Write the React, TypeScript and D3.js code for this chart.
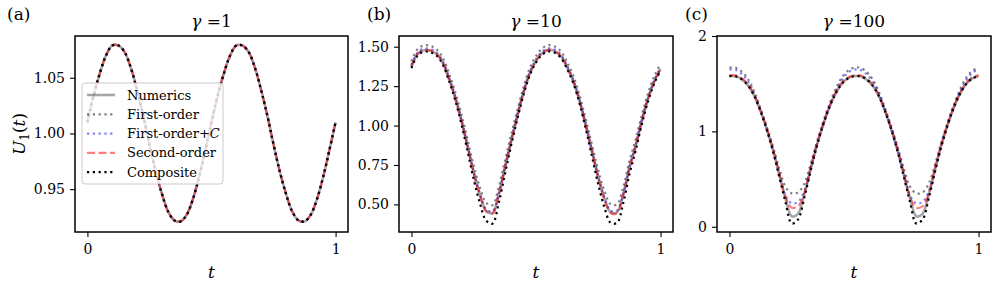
import React, { useEffect, useRef } from "react";
import * as d3 from "d3";

// sample times (shared by every curve)
const tGrid = [
  0, 0.025, 0.05, 0.075, 0.1, 0.125, 0.15, 0.175, 0.2, 0.225, 0.25, 0.275,
  0.3, 0.325, 0.35, 0.375, 0.4, 0.425, 0.45, 0.475, 0.5, 0.525, 0.55, 0.575,
  0.6, 0.625, 0.65, 0.675, 0.7, 0.725, 0.75, 0.775, 0.8, 0.825, 0.85, 0.875,
  0.9, 0.925, 0.95, 0.975, 1.0,
];

const xTicks = [0, 1];

// (a) gamma = 1 : all approximations sit on top of the numerics
const aU = [
  1.010, 1.034, 1.054, 1.070, 1.079, 1.079, 1.073, 1.059, 1.039, 1.016,
  0.990, 0.966, 0.946, 0.930, 0.922, 0.921, 0.927, 0.941, 0.961, 0.985,
  1.010, 1.034, 1.054, 1.070, 1.079, 1.079, 1.073, 1.059, 1.039, 1.016,
  0.990, 0.966, 0.946, 0.930, 0.922, 0.921, 0.927, 0.941, 0.961, 0.985, 1.010,
];
const aYTicks = [0.95, 1.0, 1.05];

// (b) gamma = 10
const bNumerics = [
  1.375, 1.455, 1.478, 1.476, 1.455, 1.400, 1.300, 1.180, 1.035, 0.870,
  0.700, 0.560, 0.460, 0.445, 0.560, 0.730, 0.900, 1.060, 1.210, 1.330,
  1.410, 1.460, 1.480, 1.472, 1.440, 1.370, 1.280, 1.155, 1.000, 0.835,
  0.670, 0.535, 0.450, 0.450, 0.560, 0.730, 0.870, 1.030, 1.170, 1.280, 1.360,
];
const bFirst = [
  1.407, 1.486, 1.508, 1.506, 1.485, 1.432, 1.334, 1.216, 1.074, 0.912,
  0.745, 0.608, 0.510, 0.495, 0.608, 0.774, 0.941, 1.098, 1.245, 1.363,
  1.441, 1.490, 1.510, 1.502, 1.471, 1.402, 1.314, 1.191, 1.039, 0.877,
  0.716, 0.583, 0.500, 0.500, 0.608, 0.774, 0.912, 1.069, 1.206, 1.314, 1.392,
];
const bFirstC = [
  1.385, 1.465, 1.488, 1.486, 1.465, 1.410, 1.310, 1.190, 1.045, 0.880,
  0.710, 0.570, 0.470, 0.455, 0.570, 0.740, 0.910, 1.070, 1.220, 1.340,
  1.420, 1.470, 1.490, 1.482, 1.450, 1.380, 1.290, 1.165, 1.010, 0.845,
  0.680, 0.545, 0.460, 0.460, 0.570, 0.740, 0.880, 1.040, 1.180, 1.290, 1.370,
];
const bSecond = [
  1.374, 1.455, 1.478, 1.476, 1.455, 1.400, 1.299, 1.179, 1.033, 0.867,
  0.696, 0.556, 0.455, 0.440, 0.556, 0.726, 0.897, 1.058, 1.209, 1.329,
  1.410, 1.460, 1.480, 1.472, 1.440, 1.369, 1.279, 1.153, 0.998, 0.832,
  0.666, 0.530, 0.445, 0.445, 0.556, 0.726, 0.867, 1.028, 1.169, 1.279, 1.359,
];
const bComposite = [
  1.364, 1.445, 1.468, 1.466, 1.445, 1.390, 1.288, 1.165, 1.015, 0.841,
  0.659, 0.507, 0.397, 0.378, 0.507, 0.691, 0.873, 1.041, 1.196, 1.319,
  1.400, 1.450, 1.470, 1.462, 1.430, 1.359, 1.268, 1.140, 0.978, 0.804,
  0.627, 0.480, 0.383, 0.383, 0.507, 0.691, 0.841, 1.010, 1.155, 1.268, 1.349,
];
const bYTicks = [0.5, 0.75, 1.0, 1.25, 1.5];

// (c) gamma = 100
const cNumerics = [
  1.58, 1.577, 1.545, 1.48, 1.37, 1.21, 1.02, 0.80, 0.545, 0.30, 0.11,
  0.135, 0.34, 0.595, 0.845, 1.06, 1.245, 1.39, 1.495, 1.555, 1.578,
  1.577, 1.545, 1.48, 1.37, 1.21, 1.02, 0.80, 0.545, 0.30, 0.11,
  0.135, 0.34, 0.595, 0.845, 1.06, 1.245, 1.39, 1.495, 1.555, 1.578,
];
const cFirst = [
  1.67, 1.667, 1.625, 1.545, 1.415, 1.24, 1.05, 0.84, 0.61, 0.42, 0.35,
  0.36, 0.45, 0.65, 0.88, 1.09, 1.275, 1.435, 1.56, 1.635, 1.667,
  1.667, 1.625, 1.545, 1.415, 1.24, 1.05, 0.84, 0.61, 0.42, 0.35,
  0.36, 0.45, 0.65, 0.88, 1.09, 1.275, 1.435, 1.56, 1.635, 1.667,
];
const cFirstC = [
  1.65, 1.645, 1.60, 1.52, 1.39, 1.215, 1.02, 0.80, 0.56, 0.33, 0.245,
  0.26, 0.37, 0.60, 0.855, 1.06, 1.25, 1.41, 1.535, 1.612, 1.647,
  1.645, 1.60, 1.52, 1.39, 1.215, 1.02, 0.80, 0.56, 0.33, 0.245,
  0.26, 0.37, 0.60, 0.855, 1.06, 1.25, 1.41, 1.535, 1.612, 1.65,
];
const cSecond = [
  1.59, 1.587, 1.555, 1.49, 1.38, 1.22, 1.03, 0.815, 0.565, 0.31, 0.20,
  0.215, 0.345, 0.615, 0.86, 1.07, 1.255, 1.40, 1.505, 1.565, 1.588,
  1.587, 1.555, 1.49, 1.38, 1.22, 1.03, 0.815, 0.565, 0.31, 0.20,
  0.215, 0.345, 0.615, 0.86, 1.07, 1.255, 1.40, 1.505, 1.565, 1.59,
];
const cComposite = [
  1.58, 1.577, 1.545, 1.48, 1.37, 1.21, 1.017, 0.79, 0.525, 0.26, 0.035,
  0.075, 0.30, 0.575, 0.835, 1.057, 1.245, 1.39, 1.495, 1.555, 1.578,
  1.577, 1.545, 1.48, 1.37, 1.21, 1.017, 0.79, 0.525, 0.26, 0.035,
  0.075, 0.30, 0.575, 0.835, 1.057, 1.245, 1.39, 1.495, 1.555, 1.578,
];
const cYTicks = [0, 1, 2];

const seriesNames = ["Numerics", "First-order", "First-order+C", "Second-order", "Composite"];

// line styles, in legend order
const styles = [
  { color: "#000", opacity: 0.35, width: 2.6, dash: null },
  { color: "#000", opacity: 0.5, width: 2.2, dash: "2.2,3.6" },
  { color: "#0000ff", opacity: 0.5, width: 2.2, dash: "2.2,3.6" },
  { color: "#ff0000", opacity: 0.5, width: 2.2, dash: "8,3.5" },
  { color: "#000", opacity: 1, width: 2.2, dash: "2.2,3.6" },
];

const panels = [
  {
    tag: "(a)", gamma: "1", left: 75, right: 348, tagX: 7,
    yDomain: [0.9115, 1.0875], yTicks: aYTicks, fmt: ".2f",
    series: [aU, aU, aU, aU, aU], legend: true, ylabel: true,
  },
  {
    tag: "(b)", gamma: "10", left: 399, right: 673, tagX: 367,
    yDomain: [0.325, 1.568], yTicks: bYTicks, fmt: ".2f",
    series: [bNumerics, bFirst, bFirstC, bSecond, bComposite], legend: false, ylabel: false,
  },
  {
    tag: "(c)", gamma: "100", left: 717, right: 991, tagX: 685,
    yDomain: [-0.055, 2.0], yTicks: cYTicks, fmt: "d",
    series: [cNumerics, cFirst, cFirstC, cSecond, cComposite], legend: false, ylabel: false,
  },
];

const width = 996;
const height = 287;
const top = 36;
const bottom = 232;
const serif = "'DejaVu Serif', serif";

const App = () => {
  const svgRef = useRef(null);

  useEffect(() => {
    const svg = d3.select(svgRef.current);
    svg.selectAll("*").remove();

    panels.forEach((p, pi) => {
      const x = d3.scaleLinear().domain([-0.05, 1.05]).range([p.left, p.right]);
      const y = d3.scaleLinear().domain(p.yDomain).range([bottom, top]);
      const g = svg.append("g").style("font-family", serif);

      svg
        .append("defs")
        .append("clipPath")
        .attr("id", `clip${pi}`)
        .append("rect")
        .attr("x", p.left)
        .attr("y", top)
        .attr("width", p.right - p.left)
        .attr("height", bottom - top);

      const line = d3
        .line()
        .x((d, i) => x(tGrid[i]))
        .y((d) => y(d))
        .curve(d3.curveCatmullRom.alpha(0.5));

      // curves
      const lines = g.append("g").attr("clip-path", `url(#clip${pi})`);
      p.series.forEach((vals, si) => {
        const s = styles[si];
        lines
          .append("path")
          .datum(vals)
          .attr("fill", "none")
          .attr("stroke", s.color)
          .attr("stroke-opacity", s.opacity)
          .attr("stroke-width", s.width)
          .attr("stroke-dasharray", s.dash)
          .attr("d", line);
      });

      // y axis
      const yAxis = g
        .append("g")
        .attr("transform", `translate(${p.left},0)`)
        .call(
          d3.axisLeft(y).tickValues(p.yTicks).tickFormat(d3.format(p.fmt)).tickSize(5).tickPadding(5)
        );
      yAxis.attr("font-family", null).attr("font-size", null);
      yAxis.select(".domain").remove();
      yAxis.selectAll("line").attr("stroke-width", 1.1);
      yAxis.selectAll("text").style("font-family", serif).attr("font-size", 14).attr("fill", "#000");

      // x axis
      const xAxis = g
        .append("g")
        .attr("transform", `translate(0,${bottom})`)
        .call(d3.axisBottom(x).tickValues(xTicks).tickFormat(d3.format("d")).tickSize(5).tickPadding(7));
      xAxis.attr("font-family", null).attr("font-size", null);
      xAxis.select(".domain").remove();
      xAxis.selectAll("line").attr("stroke-width", 1.1);
      xAxis.selectAll("text").style("font-family", serif).attr("font-size", 14).attr("fill", "#000");

      // frame
      g.append("rect")
        .attr("x", p.left)
        .attr("y", top)
        .attr("width", p.right - p.left)
        .attr("height", bottom - top)
        .attr("fill", "none")
        .attr("stroke", "#000")
        .attr("stroke-width", 1.5);

      const cx = (p.left + p.right) / 2;

      // title
      const title = g
        .append("text")
        .attr("x", cx)
        .attr("y", 27)
        .attr("text-anchor", "middle")
        .attr("font-size", 17);
      title.append("tspan").attr("font-style", "italic").text("γ");
      title.append("tspan").text(` =${p.gamma}`);

      // panel tag
      g.append("text")
        .attr("x", p.tagX)
        .attr("y", 20)
        .attr("font-size", 17)
        .text(p.tag);

      // x label
      g.append("text")
        .attr("x", cx)
        .attr("y", 278)
        .attr("text-anchor", "middle")
        .attr("font-style", "italic")
        .attr("font-size", 17)
        .text("t");

      if (p.ylabel) {
        const yl = g
          .append("text")
          .attr("transform", `translate(25,${(top + bottom) / 2}) rotate(-90)`)
          .attr("text-anchor", "middle")
          .attr("font-size", 17);
        yl.append("tspan").attr("font-style", "italic").text("U");
        yl.append("tspan").attr("font-size", 12).attr("dy", 4).text("1");
        yl.append("tspan").attr("dy", -4).text("(");
        yl.append("tspan").attr("font-style", "italic").text("t");
        yl.append("tspan").text(")");
      }

      if (p.legend) {
        const lg = g.append("g");
        lg.append("rect")
          .attr("x", 82)
          .attr("y", 83)
          .attr("width", 141)
          .attr("height", 101)
          .attr("rx", 3)
          .attr("fill", "#fff")
          .attr("fill-opacity", 0.8)
          .attr("stroke", "#cccccc")
          .attr("stroke-width", 1);
        seriesNames.forEach((name, i) => {
          const s = styles[i];
          const ly = 95 + i * 19.3;
          lg.append("line")
            .attr("x1", 87)
            .attr("x2", 115)
            .attr("y1", ly)
            .attr("y2", ly)
            .attr("stroke", s.color)
            .attr("stroke-opacity", s.opacity)
            .attr("stroke-width", s.width)
            .attr("stroke-dasharray", s.dash);
          const t = lg
            .append("text")
            .attr("x", 127)
            .attr("y", ly)
            .attr("dy", "0.35em")
            .attr("font-size", 13);
          if (name === "First-order+C") {
            t.append("tspan").text("First-order+");
            t.append("tspan").attr("font-style", "italic").text("C");
          } else {
            t.text(name);
          }
        });
      }
    });
  }, []);

  return (
    <svg
      ref={svgRef}
      width={width}
      height={height}
      style={{ position: "absolute", left: 0, top: 0, background: "#fff" }}
    ></svg>
  );
};

export default App;
